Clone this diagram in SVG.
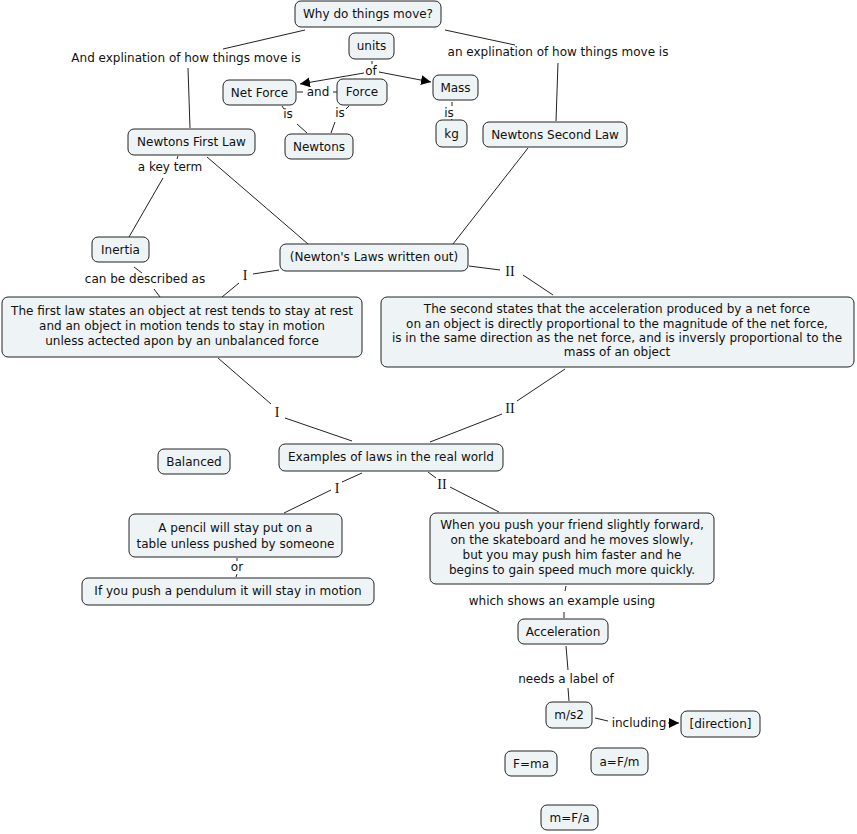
<svg xmlns="http://www.w3.org/2000/svg" width="857" height="834" viewBox="0 0 857 834">
<style>
.n rect{fill:#eef3f5;stroke:#222;stroke-width:1}
text{font-family:"DejaVu Sans",Verdana,sans-serif;font-size:12px;fill:#111;text-anchor:middle}
.r{font-family:"Liberation Serif","Times New Roman",serif;font-size:14px}
.c line,.c path{stroke:#222;stroke-width:1;fill:none}
</style>
<defs>
<marker id="ah" viewBox="0 0 10 10" refX="10" refY="5" markerWidth="10" markerHeight="10" markerUnits="userSpaceOnUse" orient="auto"><path d="M0,0L10,5L0,10z" fill="#000"/></marker>
</defs>
<rect width="857" height="834" fill="#fff"/>
<g class="c" id="connectors">
<line x1="305" y1="30" x2="223" y2="49"/>
<line x1="188" y1="68" x2="190" y2="128"/>
<line x1="445" y1="30" x2="515" y2="45"/>
<line x1="558" y1="63" x2="556" y2="121"/>
<line x1="372" y1="61" x2="372" y2="64"/>
<line x1="364" y1="73" x2="300" y2="84" marker-end="url(#ah)"/>
<line x1="379" y1="72" x2="431" y2="82" marker-end="url(#ah)"/>
<line x1="297" y1="92" x2="303" y2="92"/>
<line x1="333" y1="92" x2="337" y2="92"/>
<line x1="282" y1="106" x2="284" y2="109"/>
<line x1="297" y1="124" x2="307" y2="133"/>
<line x1="349" y1="106" x2="346" y2="109"/>
<line x1="335" y1="122" x2="331" y2="133"/>
<line x1="452" y1="102" x2="452" y2="106"/>
<line x1="452" y1="119" x2="451" y2="121"/>
<line x1="178" y1="156" x2="177" y2="159"/>
<line x1="163" y1="178" x2="129" y2="237"/>
<line x1="207" y1="157" x2="308" y2="244"/>
<line x1="528" y1="148" x2="453" y2="244"/>
<line x1="134" y1="267" x2="142" y2="273"/>
<line x1="154" y1="289" x2="160" y2="297"/>
<line x1="279" y1="270" x2="253" y2="274"/>
<line x1="239" y1="283" x2="222" y2="297"/>
<line x1="469" y1="266" x2="500" y2="270"/>
<line x1="523" y1="275" x2="553" y2="295"/>
<line x1="218" y1="358" x2="271" y2="404"/>
<line x1="285" y1="418" x2="352" y2="441"/>
<line x1="565" y1="369" x2="517" y2="401"/>
<line x1="502" y1="414" x2="430" y2="442"/>
<line x1="362" y1="473" x2="342" y2="482"/>
<line x1="331" y1="490" x2="284" y2="513"/>
<line x1="428" y1="472" x2="436" y2="478"/>
<line x1="450" y1="487" x2="499" y2="512"/>
<line x1="237" y1="558" x2="237" y2="561"/>
<line x1="237" y1="574" x2="236" y2="577"/>
<line x1="566" y1="586" x2="565" y2="591"/>
<line x1="564" y1="612" x2="564" y2="618"/>
<line x1="566" y1="646" x2="568" y2="670"/>
<line x1="568" y1="688" x2="569" y2="701"/>
<line x1="595" y1="718" x2="608" y2="721"/>
<line x1="668" y1="723" x2="679" y2="723" marker-end="url(#ah)"/>
</g>
<g id="link-labels">
<text x="186" y="62">And explination of how things move is</text>
<text x="558" y="56">an explination of how things move is</text>
<text x="371" y="75">of</text>
<text x="318" y="96">and</text>
<text x="288" y="118">is</text>
<text x="340" y="117">is</text>
<text x="449" y="117">is</text>
<text x="170" y="171">a key term</text>
<text x="145" y="283">can be described as</text>
<text class="r" x="245" y="280">I</text>
<text class="r" x="510" y="276">II</text>
<text class="r" x="277" y="417">I</text>
<text class="r" x="510" y="413">II</text>
<text class="r" x="337" y="493">I</text>
<text class="r" x="442" y="489">II</text>
<text x="237" y="571">or</text>
<text x="562" y="605">which shows an example using</text>
<text x="566" y="683">needs a label of</text>
<text x="639" y="727">including</text>
</g>
<g class="n" id="why"><rect x="295" y="1" width="146" height="26" rx="6"/><text x="368" y="18">Why do things move?</text></g>
<g class="n" id="units"><rect x="349" y="33" width="45" height="26" rx="6"/><text x="371.5" y="50">units</text></g>
<g class="n" id="netforce"><rect x="223" y="80" width="73" height="25" rx="6"/><text x="259.5" y="97">Net Force</text></g>
<g class="n" id="force"><rect x="337" y="79" width="50" height="26" rx="6"/><text x="362" y="96">Force</text></g>
<g class="n" id="mass"><rect x="433" y="75" width="45" height="25" rx="6"/><text x="455.5" y="92">Mass</text></g>
<g class="n" id="kg"><rect x="436" y="120" width="31" height="27" rx="6"/><text x="451.5" y="138">kg</text></g>
<g class="n" id="newtons"><rect x="285" y="134" width="68" height="25" rx="6"/><text x="319" y="151">Newtons</text></g>
<g class="n" id="first"><rect x="128" y="129" width="127" height="26" rx="6"/><text x="191.5" y="146">Newtons First Law</text></g>
<g class="n" id="second"><rect x="483" y="122" width="144" height="25" rx="6"/><text x="555" y="139">Newtons Second Law</text></g>
<g class="n" id="inertia"><rect x="92" y="237" width="57" height="25" rx="6"/><text x="120.5" y="254">Inertia</text></g>
<g class="n" id="laws"><rect x="280" y="244" width="188" height="27" rx="6"/><text x="374" y="261">(Newton's Laws written out)</text></g>
<g class="n" id="firstlaw"><rect x="2" y="297" width="360" height="60" rx="6"/><text x="182" y="315">The first law states an object at rest tends to stay at rest</text><text x="182" y="330">and an object in motion tends to stay in motion</text><text x="182" y="345">unless actected apon by an unbalanced force</text></g>
<g class="n" id="secondlaw"><rect x="381" y="297" width="473" height="70" rx="6"/><text x="617" y="313">The second states that the acceleration produced by a net force</text><text x="617" y="328">on an object is directly proportional to the magnitude of the net force,</text><text x="617" y="342">is in the same direction as the net force, and is inversly proportional to the</text><text x="617" y="356">mass of an object</text></g>
<g class="n" id="examples"><rect x="279" y="444" width="224" height="27" rx="6"/><text x="391" y="461">Examples of laws in the real world</text></g>
<g class="n" id="balanced"><rect x="158" y="449" width="72" height="25" rx="6"/><text x="194" y="466">Balanced</text></g>
<g class="n" id="pencil"><rect x="129" y="514" width="213" height="43" rx="6"/><text x="235.5" y="532">A pencil will stay put on a</text><text x="235.5" y="548">table unless pushed by someone</text></g>
<g class="n" id="pendulum"><rect x="82" y="578" width="292" height="27" rx="6"/><text x="228" y="595">If you push a pendulum it will stay in motion</text></g>
<g class="n" id="skate"><rect x="430" y="513" width="284" height="71" rx="6"/><text x="572" y="529">When you push your friend slightly forward,</text><text x="572" y="544">on the skateboard and he moves slowly,</text><text x="572" y="559">but you may push him faster and he</text><text x="572" y="574">begins to gain speed much more quickly.</text></g>
<g class="n" id="accel"><rect x="518" y="619" width="90" height="25" rx="6"/><text x="563" y="636">Acceleration</text></g>
<g class="n" id="ms2"><rect x="546" y="702" width="46" height="26" rx="6"/><text x="569" y="719">m/s2</text></g>
<g class="n" id="direction"><rect x="681" y="711" width="79" height="26" rx="6"/><text x="720.5" y="728">[direction]</text></g>
<g class="n" id="fma"><rect x="505" y="751" width="52" height="25" rx="6"/><text x="531" y="768">F=ma</text></g>
<g class="n" id="afm"><rect x="591" y="748" width="57" height="27" rx="6"/><text x="619.5" y="766">a=F/m</text></g>
<g class="n" id="mfa"><rect x="541" y="805" width="57" height="25" rx="6"/><text x="569.5" y="822">m=F/a</text></g>
</svg>
